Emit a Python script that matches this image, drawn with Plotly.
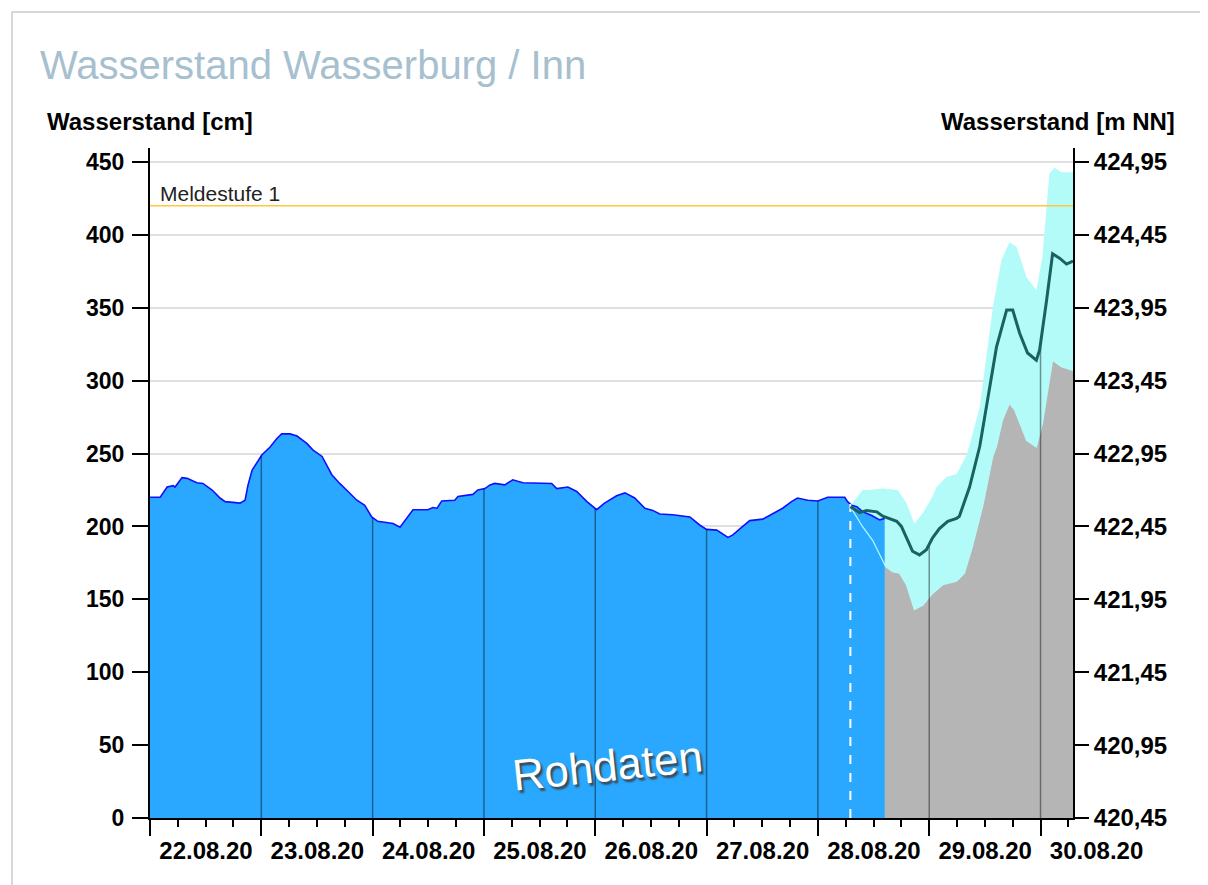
import numpy as np
import pandas as pd
import plotly.graph_objects as go

# ---------------- data ----------------
START = pd.Timestamp("2020-08-22 00:00")
END_HOURS = 199  # 30.08.20 07:00

# measured water level (Rohdaten), hours since START -> cm
meas_hours = [0, 2.2, 3.7, 5.0, 5.4, 6.9, 8.0, 10.1, 11.4, 13.4, 15.1, 16.2, 17.9, 19.4, 20.5,
              21.1, 22.0, 23.3, 24.1, 25.9, 27.4, 28.4, 30.2, 31.7, 33.8, 35.1, 37.1, 39.2, 40.9,
              42.7, 44.6, 46.3, 47.8, 49.1, 52.4, 53.9, 55.4, 56.7, 59.9, 61.0, 61.9, 62.9, 65.7,
              66.4, 69.6, 70.7, 72.2, 73.3, 74.3, 76.5, 78.2, 80.4, 86.6, 87.7, 90.1, 92.0, 94.2,
              96.3, 98.0, 100.6, 102.4, 104.5, 106.7, 108.4, 109.9, 112.7, 116.4, 118.5, 120.0,
              122.2, 124.6, 125.6, 127.8, 129.3, 132.1, 134.3, 136.4, 138.3, 139.6, 141.8, 144.0,
              146.1, 149.8, 150.4, 151.3, 152.4, 153.7, 155.6, 157.3, 158.4]
meas_cm = [220, 220, 227, 228, 227, 233.5, 233, 230, 229.5, 225, 219.5, 217, 216.5, 216, 218,
           228, 238.5, 245.5, 249, 254.5, 260.5, 263.5, 263.5, 262, 257, 252.5, 248, 235.5, 229.5,
           224, 218, 214.5, 206.5, 203.5, 202, 199.5, 205.5, 211.5, 211.5, 213, 212.5, 217.5, 218,
           220.5, 222, 225, 226, 228.5, 229.5, 228.5, 232, 230, 229.5, 226, 227, 224, 217,
           211.5, 216, 221, 223, 219.5, 212.5, 211, 208.5, 208, 206.5, 201, 198,
           197.5, 192.5, 194, 200, 204, 205, 209, 212.5, 217, 219.5, 218, 217.5,
           220, 220, 217, 214.5, 213.5, 210, 207.5, 204.5, 205.5]

# forecast issued at 28.08.20 07:00
forecast_start_hours = 151

median_hours = [151, 153.0, 154.5, 156.7, 158.0, 159.5, 161.0, 162.0, 163.1, 164.4, 165.9, 167.4,
                168.7, 170.2, 172.0, 173.9, 174.5, 176.7, 178.9, 180.6, 182.5, 184.7, 186.0, 187.5,
                189.2, 191.1, 191.8, 193.3, 194.6, 196.1, 197.6, 199.0]
median_cm = [213.5, 209.5, 211, 210, 207, 205, 203.5, 200, 192, 183, 180.5, 184,
             192, 198.5, 203.5, 205.5, 207, 227, 255, 287, 323, 348.5, 348.5, 332.5,
             319, 314, 321, 355, 387, 384, 380, 382]

upper_hours = [151, 153.6, 155.2, 158.0, 161.2, 163.1, 164.8, 166.6, 167.4, 168.7, 169.6, 171.7,
               173.9, 176.1, 178.9, 181.7, 183.6, 185.3, 186.8, 189.0, 191.1, 192.4, 193.3, 193.9,
               195.0, 196.5, 199.0]
upper_cm = [214, 225, 225, 226, 225, 216, 202, 209, 213.5, 220.5, 227, 234,
            236, 249, 282, 350, 383, 395, 392, 371, 362, 385, 419, 442,
            446, 443, 443]

lower_hours = [151, 153.6, 155.8, 157.3, 158.6, 160.1, 161.6, 163.1, 164.8, 166.6, 168.7, 170.9,
               173.9, 175.6, 177.3, 179.5, 181.7, 182.5, 183.8, 185.3, 186.4, 189.0, 191.1, 192.4,
               193.5, 194.6, 196.5, 199.0]
lower_cm = [213.5, 200, 190.5, 180.5, 172.5, 169, 168, 160, 143, 146, 154, 160,
            162.5, 168, 186, 213.5, 248, 255, 273, 284.5, 280, 259, 254.5, 270.5,
            293.5, 314, 309.5, 307]

meldestufe_1 = 420  # cm
day_labels = ["22.08.20", "23.08.20", "24.08.20", "25.08.20", "26.08.20",
              "27.08.20", "28.08.20", "29.08.20", "30.08.20"]
cm_ticks = [0, 50, 100, 150, 200, 250, 300, 350, 400, 450]
nn_offset = 420.45  # m NN at gauge zero
y_top = 459.6

# ---------------- helpers ----------------
def to_time(hours):
    return START + pd.to_timedelta(np.asarray(hours, dtype=float), unit="h")

t_meas = to_time(meas_hours)
t_med = to_time(median_hours)
t_up = to_time(upper_hours)
t_low = to_time(lower_hours)
t_end = START + pd.Timedelta(hours=END_HOURS)

BLUE_FILL = "#2aa8ff"
GRAY_FILL = "#b5b5b5"
CYAN = "#b3fbf9"
TEAL = "#17635f"

# page offset (browser body margin) and plot geometry
W, H = 1200, 877
ML, MT = 142, 140
PW, PH = 923, 670

fig = go.Figure()

# lower quantile -> gray area to zero
fig.add_trace(go.Scatter(x=t_low, y=lower_cm, mode="lines", line=dict(width=0, color=GRAY_FILL),
                         fill="tozeroy", fillcolor=GRAY_FILL, hoverinfo="skip"))
# band between lower and upper (cyan)
fig.add_trace(go.Scatter(x=t_low, y=lower_cm, mode="lines", line=dict(width=0, color=CYAN),
                         hoverinfo="skip"))
fig.add_trace(go.Scatter(x=t_up, y=upper_cm, mode="lines", line=dict(width=0, color=CYAN),
                         fill="tonexty", fillcolor=CYAN, hoverinfo="skip"))
# measured
fig.add_trace(go.Scatter(x=t_meas, y=meas_cm, mode="lines", line=dict(width=1.6, color="#1010ff"),
                         fill="tozeroy", fillcolor=BLUE_FILL, hoverinfo="skip"))
# lower line visible over measured
fig.add_trace(go.Scatter(x=t_low, y=lower_cm, mode="lines", line=dict(width=1.2, color=CYAN),
                         hoverinfo="skip"))

# day separator lines (from 0 up to the curve)
meas_end_h = meas_hours[-1]
for d in range(1, 9):
    h = 24 * d
    if h <= meas_end_h:
        level = float(np.interp(h, meas_hours, meas_cm))
    else:
        level = float(np.interp(h, median_hours, median_cm))
    tx = START + pd.Timedelta(hours=h)
    fig.add_trace(go.Scatter(x=[tx, tx], y=[0, level], mode="lines",
                             line=dict(width=1.5, color="rgba(0,0,0,0.42)"), hoverinfo="skip"))

# forecast start dashed line
fs_level = float(np.interp(forecast_start_hours, meas_hours, meas_cm))
tfs = START + pd.Timedelta(hours=forecast_start_hours)
fig.add_trace(go.Scatter(x=[tfs, tfs], y=[0, fs_level], mode="lines",
                         line=dict(width=2, color="white", dash="dash"), hoverinfo="skip"))

# median forecast
fig.add_trace(go.Scatter(x=t_med, y=median_cm, mode="lines", line=dict(width=3, color=TEAL),
                         hoverinfo="skip"))

# dummy trace for right axis
fig.add_trace(go.Scatter(x=[START], y=[nn_offset], yaxis="y2", mode="markers",
                         marker=dict(opacity=0), hoverinfo="skip"))

# Meldestufe line
fig.add_trace(go.Scatter(x=[START, t_end], y=[meldestufe_1, meldestufe_1], mode="lines",
                         line=dict(width=1.6, color="#ffc83a"), hoverinfo="skip"))

FONT_BOLD = dict(family="Liberation Sans, Arial, sans-serif", color="black", weight="bold")

day_ticks = [START + pd.Timedelta(days=i) for i in range(len(day_labels))]

fig.update_layout(
    width=W, height=H,
    margin=dict(l=ML, r=W - ML - PW, t=MT, b=H - MT - PH),
    paper_bgcolor="white", plot_bgcolor="white",
    showlegend=False,
    separators=",.",
    title=dict(text="Wasserstand Wasserburg / Inn", x=32 / W, xref="container", xanchor="left",
               y=1 - 57 / H, yref="container", yanchor="middle",
               font=dict(family="Liberation Sans, Arial, sans-serif", size=40, color="#a7c0cf")),
    xaxis=dict(range=[START, t_end], showgrid=False, zeroline=False,
               showline=True, linecolor="black", linewidth=2,
               tickmode="array", tickvals=day_ticks, ticktext=day_labels,
               ticks="outside", ticklen=16, tickwidth=2, tickcolor="black",
               ticklabelshift=56, ticklabelstandoff=-6,
               tickfont=dict(size=24, **FONT_BOLD),
               minor=dict(ticks="outside", ticklen=7, tickwidth=2, tickcolor="black",
                          dtick=6 * 3600 * 1000, tick0=START, showgrid=False)),
    yaxis=dict(range=[0, y_top], tickmode="array", tickvals=cm_ticks,
               showgrid=True, gridcolor="#e0e0e0", gridwidth=1.5, zeroline=False,
               showline=True, linecolor="black", linewidth=2,
               ticks="outside", ticklen=16, tickwidth=2, tickcolor="black",
               ticklabelstandoff=3,
               tickfont=dict(size=23, **FONT_BOLD)),
    yaxis2=dict(range=[nn_offset, nn_offset + y_top / 100], overlaying="y", side="right",
                anchor="x", tickmode="array", tickvals=[nn_offset + c / 100 for c in cm_ticks],
                tickformat=".2f", showgrid=False, zeroline=False,
                showline=True, linecolor="black", linewidth=2,
                ticks="outside", ticklen=14, tickwidth=2, tickcolor="black",
                tickfont=dict(size=24, **FONT_BOLD)),
)

# axis titles
fig.add_annotation(text="Wasserstand [cm]", xref="paper", yref="paper", x=-105 / PW,
                   y=697 / PH, xanchor="left", yanchor="middle", showarrow=False,
                   font=dict(size=24, **FONT_BOLD))
fig.add_annotation(text="Wasserstand [m NN]", xref="paper", yref="paper", x=1027 / PW,
                   y=697 / PH, xanchor="right", yanchor="middle", showarrow=False,
                   font=dict(size=24, **FONT_BOLD))
# Meldestufe label
fig.add_annotation(text="Meldestufe 1", xref="paper", yref="y", x=8 / PW, y=meldestufe_1,
                   xanchor="left", yanchor="bottom", showarrow=False, yshift=-1,
                   font=dict(family="Liberation Sans, Arial, sans-serif", size=21, color="#222"))
# watermark
fig.add_annotation(text="Rohdaten", xref="paper", yref="paper", x=457 / PW,
                   y=53 / PH, xanchor="center", yanchor="middle", showarrow=False,
                   textangle=-6,
                   font=dict(family="Liberation Sans, Arial, sans-serif", size=44, color="white",
                             shadow="2px 3px 2px rgba(60,60,60,0.9)"))

# card frame
fig.add_shape(type="rect", xref="paper", yref="paper",
              x0=-138 / PW, x1=1300 / PW, y0=-120 / PH, y1=806 / PH,
              line=dict(color="#d8d8d8", width=2), fillcolor="rgba(0,0,0,0)", layer="below")

fig.write_html("out.html")
